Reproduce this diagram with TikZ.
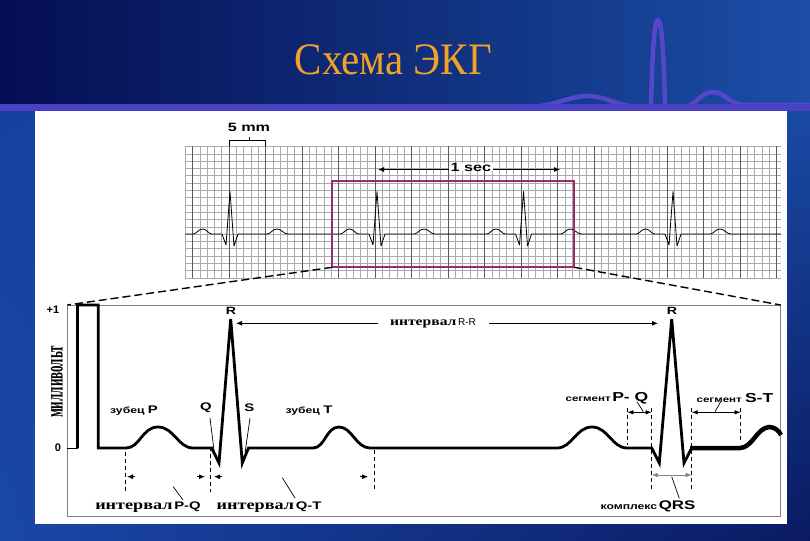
\documentclass[tikz,border=0pt]{standalone}
\usepackage{fontspec}
\usepackage{graphicx}
\setmainfont{Liberation Serif}
\newfontfamily\sansf{Liberation Sans}
\newfontfamily\seriff{Liberation Serif}
\usetikzlibrary{arrows.meta,shadings}
\definecolor{hdrL}{HTML}{050E52}
\definecolor{hdrR}{HTML}{1B4EA6}
\definecolor{lowUL}{HTML}{1640A0}
\definecolor{lowUR}{HTML}{1A4AA5}
\definecolor{lowLL}{HTML}{1A48A8}
\definecolor{lowLR}{HTML}{0A1A62}
\definecolor{bandc}{HTML}{4A42C4}
\definecolor{decoc}{HTML}{5546CC}
\definecolor{titlec}{HTML}{F2A22A}
\definecolor{purpc}{HTML}{9B2A6E}
\definecolor{gridmin}{HTML}{ABABAB}
\definecolor{gridmaj}{HTML}{5A5A5A}
\newcommand{\sx}[1]{\scalebox{1.35}[1]{#1}}
\newcommand{\sxs}[1]{\scalebox{1.3}[1]{#1}}
\begin{document}
\begin{tikzpicture}[x=1pt,y=-1pt,
  ecg/.style={line width=2.8pt, line join=miter},
  ecgthin/.style={line width=0.8pt, line join=round},
  gmin/.style={draw=gridmin, line width=0.5pt},
  gmaj/.style={draw=gridmaj, line width=1pt},
  arr/.style={-{Latex[length=6pt,width=5pt]}, line width=0.8pt},
  darr/.style={{Latex[length=6pt,width=4.5pt]}-{Latex[length=6pt,width=4.5pt]}, line width=0.8pt},
  vd/.style={dash pattern=on 4pt off 3pt, line width=0.7pt},
  lead/.style={line width=0.7pt},
  lbl/.style={font=\sansf\bfseries\fontsize{11}{12}\selectfont, inner sep=0pt}
]
\useasboundingbox (0,0) rectangle (810,540);
% background
\shade[upper left=lowUL, upper right=lowUR, lower left=lowLL, lower right=lowLR] (0,104) rectangle (810,540);
\shade[left color=hdrL, right color=hdrR] (0,0) rectangle (810,105);
% header decoration
\draw[decoc, line width=4.5pt, line cap=round, line join=round]
  (520,108) .. controls (555,107) and (568,96) .. (588,96)
  .. controls (606,96) and (615,106) .. (640,107) -- (651,107)
  .. controls (652,60) and (654,20) .. (658,20)
  .. controls (662,20) and (664,60) .. (665,107) -- (684,107)
  .. controls (695,107) and (700,92) .. (713,92)
  .. controls (725,92) and (728,104) .. (745,105) -- (810,105);
\fill[bandc] (0,104.5) rectangle (810,110.8);
\node[font=\seriff\fontsize{45}{50}\selectfont, text=titlec, inner sep=0pt, anchor=base] (title) at (393.3,75) {\scalebox{0.91}[1]{Схема ЭКГ}};
% white panel
\fill[white] (35,111) rectangle (787,524);
% grid
\foreach \j in {0,...,18}{
  \draw[gmin] (185,146.5+\j*7.3) -- (781,146.5+\j*7.3);
}
\foreach \k in {-6,...,75}{
  \draw[gmin] (229+\k*7.3,146.5) -- (229+\k*7.3,278);
}
\foreach \k in {-5,0,5,...,75}{
  \draw[gmaj] (229+\k*7.3,146.5) -- (229+\k*7.3,278);
}
% small strip ECG
\draw[ecgthin] (185,234)
  \foreach \r in {230,377,523.5,673}{
    -- (\r-37,234) .. controls (\r-33,234) and (\r-32,229) .. (\r-27.5,229)
    .. controls (\r-23,229) and (\r-22,234) .. (\r-18,234)
    -- (\r-8,234) -- (\r-4,245) -- (\r,191.5) -- (\r+4,246) -- (\r+8,234)
    -- (\r+37,234) .. controls (\r+41,234) and (\r+42,229) .. (\r+47,229)
    .. controls (\r+52,229) and (\r+53,234) .. (\r+58,234)
  } -- (781,234);
% 5 mm bracket
\node[lbl, font=\sansf\bfseries\fontsize{12}{13}\selectfont] (fivemm) at (249,127) {\sx{5 mm}};
\coordinate (bl) at (229,146.5);
\coordinate (br) at (265.5,146.5);
\draw[line width=0.8pt] (bl) -- (229,140.7) -- (265.5,140.7) -- (br);
\draw[line width=0.8pt] (fivemm.south |- 0,140.7) -- (fivemm.south |- 0,136.7);
% 1 sec
\node[lbl, font=\sansf\bfseries\fontsize{12}{13}\selectfont, fill=white, inner xsep=2pt] (onesec) at (471,167) {\sx{1 sec}};
\coordinate (secL) at (378,169.5);
\coordinate (secR) at (560,169.5);
\draw[arr] (onesec.west |- secL) -- (secL);
\draw[arr] (onesec.east |- secR) -- (secR);
% purple rect
\coordinate (pTL) at (332.3,180.7);
\coordinate (pBR) at (574.3,267.3);
\coordinate (pBL) at (332.3,267.3);
\draw[purpc, line width=1.8pt] (pTL) rectangle (pBR);
% frame
\coordinate (fTL) at (67.3,305);
\coordinate (fTR) at (780.7,305);
\draw[gray, line width=0.8pt] (fTL) rectangle (780.7,516);
% zoom dashed lines
\draw[dash pattern=on 8pt off 4pt, line width=1.4pt] (pBL) -- (fTL);
\draw[dash pattern=on 8pt off 4pt, line width=1.4pt] (pBR) -- (fTR);
% lower ECG
\draw[line width=0.8pt] (67.3,448) -- (77.5,448);
\draw[ecg] (77.5,448) -- (77.5,305) -- (98.3,305) -- (98.3,448) -- (126,448)
  .. controls (140,448) and (142,427) .. (158,427)
  .. controls (174,427) and (178,448) .. (193,448)
  -- (211.7,448) -- (219,463) -- (230.7,319) -- (242.3,463) -- (248.5,448)
  -- (313,448) .. controls (325,448) and (326,427) .. (339,427)
  .. controls (352,427) and (356,448) .. (370,448)
  -- (557,448) .. controls (572,448) and (576,427) .. (592,427)
  .. controls (608,427) and (612,448) .. (627,448)
  -- (651.7,448) -- (659.3,463) -- (671.7,319) -- (684,463) -- (691.7,448);
\draw[line width=4.5pt] (690,448) -- (740,448) .. controls (752,448) and (757,428) .. (769,427)
  .. controls (775,427) and (779,431) .. (781,435);
% axis labels
\node[lbl] (plus1) at (53,310) {+1};
\node[lbl] (zero) at (58,448) {0};
\node[font=\seriff\bfseries\fontsize{13}{14}\selectfont, inner sep=0pt, rotate=90] (mv) at (57,382) {\scalebox{1}[1.9]{милливольт}};
% peaks labels
\node[lbl, font=\sansf\bfseries\fontsize{10.5}{11}\selectfont] (R1) at (231,311) {\sx{R}};
\node[lbl, font=\sansf\bfseries\fontsize{10.5}{11}\selectfont] (R2) at (672,311) {\sx{R}};
\node[lbl] (Q) at (206,408) {\sx{Q}};
\node[lbl] (S) at (249.3,408) {\sx{S}};
\draw[lead] (210,418) -- (214.3,453);
\draw[lead] (250,418) -- (245,453);
\node[lbl] (zP) at (134,411) {\sx{\fontsize{9}{10}\selectfont зубец \fontsize{11}{12}\selectfont P}};
\node[lbl] (zT) at (309,411) {\sx{\fontsize{9}{10}\selectfont зубец \fontsize{11}{12}\selectfont T}};
% R-R interval
\node[inner sep=0pt] (rr) at (433,323) {\sxs{\seriff\bfseries\fontsize{12}{13}\selectfont интервал}\,\sansf\fontsize{10}{11}\selectfont R-R};
\draw[arr] (378,323.3) -- (236,323.3);
\draw[arr] (489,323.3) -- (658,323.3);
% dashed verticals
\draw[vd] (125,451.7) -- (125,491.7);
\draw[vd] (210.7,446.7) -- (210.7,491.7);
\draw[vd] (374,450) -- (374,491.7);
\draw[vd] (627.3,408) -- (627.3,445);
\draw[vd] (651.7,408) -- (651.7,491.7);
\draw[vd] (691.7,408) -- (691.7,491.7);
\draw[vd] (740.7,408) -- (740.7,443);
% interval arrowheads
\draw[arr] (135,476.7) -- (127,476.7);
\draw[arr] (197,476.7) -- (205,476.7);
\draw[arr] (222,476.7) -- (214,476.7);
\draw[arr] (360,476.7) -- (368,476.7);
% interval labels
\node[inner sep=0pt] (iPQ) at (148,507) {\sxs{\seriff\bfseries\fontsize{14}{15}\selectfont интервал}\,\sx{\sansf\bfseries\fontsize{11}{12}\selectfont P-Q}};
\node[inner sep=0pt] (iQT) at (269,507) {\sxs{\seriff\bfseries\fontsize{14}{15}\selectfont интервал}\,\sx{\sansf\bfseries\fontsize{11}{12}\selectfont Q-T}};
\draw[lead] (183,500) -- (173.3,486.7);
\draw[lead] (295,498) -- (282.3,477.7);
% segments
\node[inner sep=0pt] (sPQ) at (607,398) {\sx{\sansf\bfseries\fontsize{8.5}{10}\selectfont сегмент}\,\sx{\sansf\bfseries\fontsize{13}{14}\selectfont P- Q}};
\node[inner sep=0pt] (sST) at (735,398) {\sx{\sansf\bfseries\fontsize{8.5}{10}\selectfont сегмент}\,\,\sx{\sansf\bfseries\fontsize{13}{14}\selectfont S-T}};
\draw[darr] (627.3,412.3) -- (651.7,412.3);
\draw[darr] (691.7,412.3) -- (740.7,412.3);
\draw[lead] (637,401.7) -- (643.3,411.7);
\draw[lead] (720.7,401.7) -- (715,411.7);
% QRS
\draw[darr, gray] (651.7,475) -- (691.7,475);
\draw[lead] (671.7,476.7) -- (679.3,498.3);
\node[inner sep=0pt] (qrs) at (648,506) {\sx{\sansf\bfseries\fontsize{9}{10}\selectfont комплекс}\,\sx{\sansf\bfseries\fontsize{12.5}{13}\selectfont QRS}};
\end{tikzpicture}
\end{document}
